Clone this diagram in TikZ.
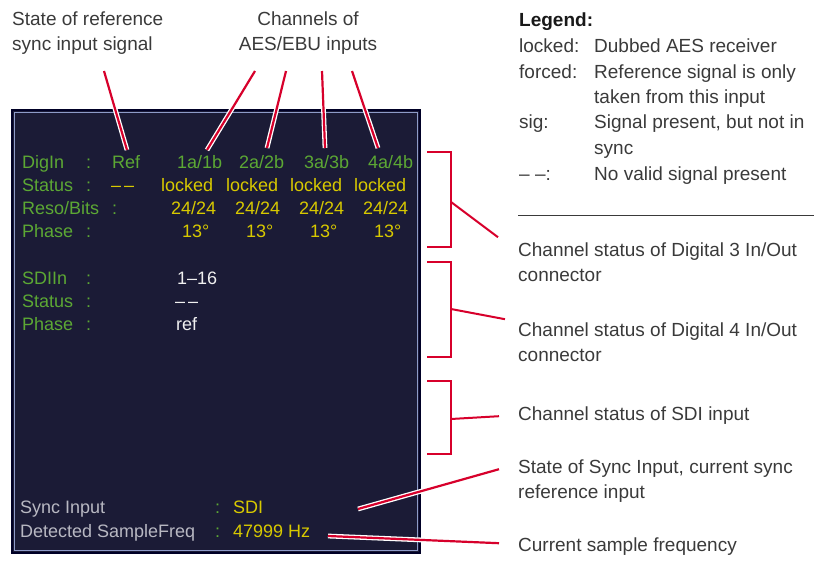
\documentclass[tikz,border=0pt]{standalone}
\usepackage{fontspec}
\setmainfont{Liberation Sans}
\usetikzlibrary{positioning, calc}
\definecolor{screencol}{HTML}{1B1B36}
\definecolor{rimcol}{HTML}{8E9BC9}
\definecolor{greencol}{HTML}{5CA834}
\definecolor{yellowcol}{HTML}{D8C900}
\definecolor{whitecol}{HTML}{F0F0F0}
\definecolor{graycol}{HTML}{B8B8C2}
\definecolor{redcol}{HTML}{D7002B}
\definecolor{textcol}{HTML}{3A3A3A}

\begin{document}
\begin{tikzpicture}[
  x=1pt, y=-1pt,
  every node/.style={inner sep=0pt},
  scr/.style={anchor=base west, text=#1, font=\fontsize{18}{18}\selectfont},
  note/.style={anchor=north west, align=left, text=textcol, font=\fontsize{19}{25.5}\selectfont},
  key/.style={anchor=base west, text=textcol, font=\fontsize{19}{25.5}\selectfont},
  callout/.style={draw=redcol, line width=2.2pt, preaction={draw=white, line width=4.8pt}},
  bracket/.style={draw=redcol, line width=2pt},
  lead/.style={draw=redcol, line width=2pt},
]
  \useasboundingbox (0,0) rectangle (814,560);

  \draw[draw=black!85!blue, fill=screencol, line width=1.2pt] (12,110) rectangle (420,553);
  \draw[rimcol, line width=1.8pt] (14.5,112.5) rectangle (417.5,550.5);

  \node[scr=greencol] (digin) at (22,168) {DigIn};
  \node[scr=greencol] at (86,168) {:};
  \node[scr=greencol] (ref) at (112,168) {Ref};
  \node[scr=greencol] (ch1) at (177,168) {1a/1b};
  \node[scr=greencol] (ch2) at (239,168) {2a/2b};
  \node[scr=greencol] (ch3) at (304,168) {3a/3b};
  \node[scr=greencol] (ch4) at (368,168) {4a/4b};

  \node[scr=greencol] (status) at (22,191) {Status};
  \node[scr=greencol] at (86,191) {:};
  \node[scr=yellowcol] (refstat) at (111,191) {\textendash\,\textendash};
  \node[scr=yellowcol] (lock1) at (161,191) {locked};
  \node[scr=yellowcol] (lock2) at (226,191) {locked};
  \node[scr=yellowcol] (lock3) at (290,191) {locked};
  \node[scr=yellowcol] (lock4) at (354,191) {locked};

  \node[scr=greencol] (reso) at (22,214) {Reso/Bits};
  \node[scr=greencol] at (112,214) {:};
  \node[scr=yellowcol] (bits1) at (171,214) {24/24};
  \node[scr=yellowcol] (bits2) at (235,214) {24/24};
  \node[scr=yellowcol] (bits3) at (299,214) {24/24};
  \node[scr=yellowcol] (bits4) at (363,214) {24/24};

  \node[scr=greencol] (phase) at (22,237) {Phase};
  \node[scr=greencol] at (86,237) {:};
  \node[scr=yellowcol] (ph1) at (182,237) {13°};
  \node[scr=yellowcol] (ph2) at (246,237) {13°};
  \node[scr=yellowcol] (ph3) at (310,237) {13°};
  \node[scr=yellowcol] (ph4) at (374,237) {13°};

  \node[scr=greencol] (sdiin) at (22,284) {SDIIn};
  \node[scr=greencol] at (86,284) {:};
  \node[scr=whitecol] (sdich) at (177,284) {1\textendash16};
  \node[scr=greencol] (sdistatus) at (22,307) {Status};
  \node[scr=greencol] at (86,307) {:};
  \node[scr=whitecol] (sdistat) at (175,307) {\textendash\,\textendash};
  \node[scr=greencol] (sdiphase) at (22,330) {Phase};
  \node[scr=greencol] at (86,330) {:};
  \node[scr=whitecol] (sdiph) at (176,330) {ref};

  \node[scr=graycol] (syncin) at (20,513) {Sync Input};
  \node[scr=greencol] at (215,513) {:};
  \node[scr=yellowcol] (syncval) at (233,513) {SDI};
  \node[scr=graycol] (detfreq) at (20,537) {Detected SampleFreq};
  \node[scr=greencol] at (215,537) {:};
  \node[scr=yellowcol] (freqval) at (233,537) {47999 Hz};

  \node[note] (refnote) at (12,11.2) {State of reference\\sync input signal};
  \node[note, anchor=north, align=center] (chnote) at (308,11.2) {Channels of\\AES/EBU inputs};

  \node[key, font=\fontsize{19}{25.5}\selectfont\bfseries, text=black!90] (legend) at (519,26) {Legend:};
  \node[key] (klocked) at (519,52) {locked:};
  \node[key] (kforced) at (519,78) {forced:};
  \node[key] (ksig) at (519,128.5) {sig:};
  \node[key] (knone) at (519,180) {\textendash\ \textendash:};
  \node[key] (dlocked) at (594,52) {Dubbed AES receiver};
  \node[note] (dforced) at (594,64.2) {Reference signal is only\\taken from this input};
  \node[note] (dsig) at (594,114.7) {Signal present, but not in\\sync};
  \node[key] (dnone) at (594,180) {No valid signal present};
  \draw[textcol, line width=1pt] (518,215) -- (814,215);

  \node[note] (dig3note) at (518,242.2) {Channel status of Digital 3 In/Out\\connector};
  \node[note] (dig4note) at (518,322.2) {Channel status of Digital 4 In/Out\\connector};
  \node[note] (sdinote) at (518,406.2) {Channel status of SDI input};
  \node[note] (syncnote) at (518,459.2) {State of Sync Input, current sync\\reference input};
  \node[note] (freqnote) at (518,537.2) {Current sample frequency};

  \coordinate (reftop) at (104,71);
  \coordinate (ch1top) at (255,71);
  \coordinate (ch2top) at (286,71);
  \coordinate (ch3top) at (322,71);
  \coordinate (ch4top) at (352,71);
  \coordinate (reftip) at (127,150);
  \coordinate (ch1tip) at (207,150);
  \coordinate (ch2tip) at (267,148);
  \coordinate (ch3tip) at (325,148);
  \coordinate (ch4tip) at (378,148);
  \draw[callout] (reftop) -- (reftip);
  \draw[callout] (ch1top) -- (ch1tip);
  \draw[callout] (ch2top) -- (ch2tip);
  \draw[callout] (ch3top) -- (ch3tip);
  \draw[callout] (ch4top) -- (ch4tip);

  \draw[bracket] (427,152) -| (451,247) -- (427,247);
  \draw[bracket] (427,262) -| (451,357) -- (427,357);
  \draw[bracket] (427,381) -| (451,454) -- (427,454);
  \coordinate (br1) at (451,202);
  \coordinate (br2) at (451,309);
  \coordinate (br3) at (451,419);
  \draw[lead] (br1) -- ($(dig3note.north west)+(-20,-5)$);
  \draw[lead] (br2) -- ($(dig4note.north west)+(-13,-3)$);
  \draw[lead] (br3) -- ($(sdinote.north west)+(-19,10)$);

  \coordinate (synctip) at (358,509);
  \coordinate (freqtip) at (328,536);
  \draw[callout] (synctip) -- ($(syncnote.north west)+(-19,10)$);
  \draw[callout] (freqtip) -- ($(freqnote.north west)+(-19,6)$);
\end{tikzpicture}
\end{document}
